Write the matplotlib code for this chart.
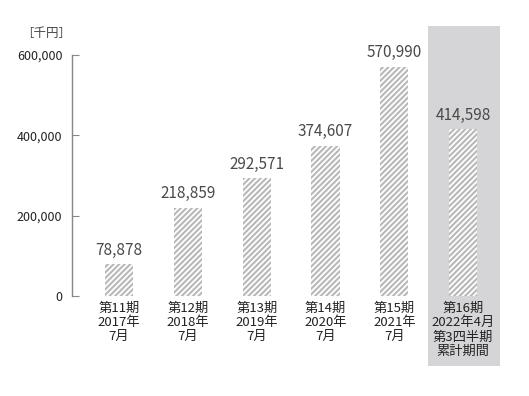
import matplotlib.pyplot as plt
from matplotlib.patches import Rectangle

plt.rcParams['font.family'] = ['Noto Sans CJK JP', 'DejaVu Sans']
plt.rcParams['hatch.linewidth'] = 1.5

# データ
categories = ['第11期\n2017年\n7月', '第12期\n2018年\n7月', '第13期\n2019年\n7月',
              '第14期\n2020年\n7月', '第15期\n2021年\n7月',
              '第16期\n2022年4月\n第3四半期\n累計期間']
values = [78878, 218859, 292571, 374607, 570990, 414598]
yticks = [0, 200000, 400000, 600000]

fig = plt.figure(figsize=(5.29, 3.96), dpi=100)
ax = fig.add_axes([72 / 529, 100 / 396, 438 / 529, 241 / 396])

x = list(range(len(values)))

# 最後の期の背景
ax.add_patch(Rectangle((4.49, -174000), 1.05, 846000, facecolor='#d5d5d7',
                       edgecolor='none', clip_on=False, zorder=0))

ax.bar(x, values, width=0.41, color='white', edgecolor='#b8b8b8', linewidth=0,
       hatch='//////', zorder=2)

for xi, v in zip(x, values):
    ax.text(xi, v + 14000, f'{v:,}', ha='center', va='bottom',
            fontsize=11, color='#4a4a4a', zorder=3)

ax.set_xlim(-0.683, 5.68)
ax.set_ylim(0, 600000)
ax.set_yticks(yticks)
ax.set_yticklabels([f'{t:,}' for t in yticks], fontsize=9, color='#222222')
ax.tick_params(axis='y', direction='in', length=5, color='#888888', pad=7)
ax.set_xticks([])

for s in ['top', 'right', 'bottom']:
    ax.spines[s].set_visible(False)
ax.spines['left'].set_color('#888888')
ax.spines['left'].set_linewidth(1)
ax.patch.set_alpha(0)

for xi, lab in zip(x, categories):
    ax.text(xi, -15000, lab, ha='center', va='top', fontsize=9.5,
            color='#222222', linespacing=1.12, transform=ax.transData)

fig.text(46 / 529, 1 - 33 / 396, '［千円］', ha='center', va='center',
         fontsize=9, color='#444444')

fig.savefig('out.png', dpi=100)
